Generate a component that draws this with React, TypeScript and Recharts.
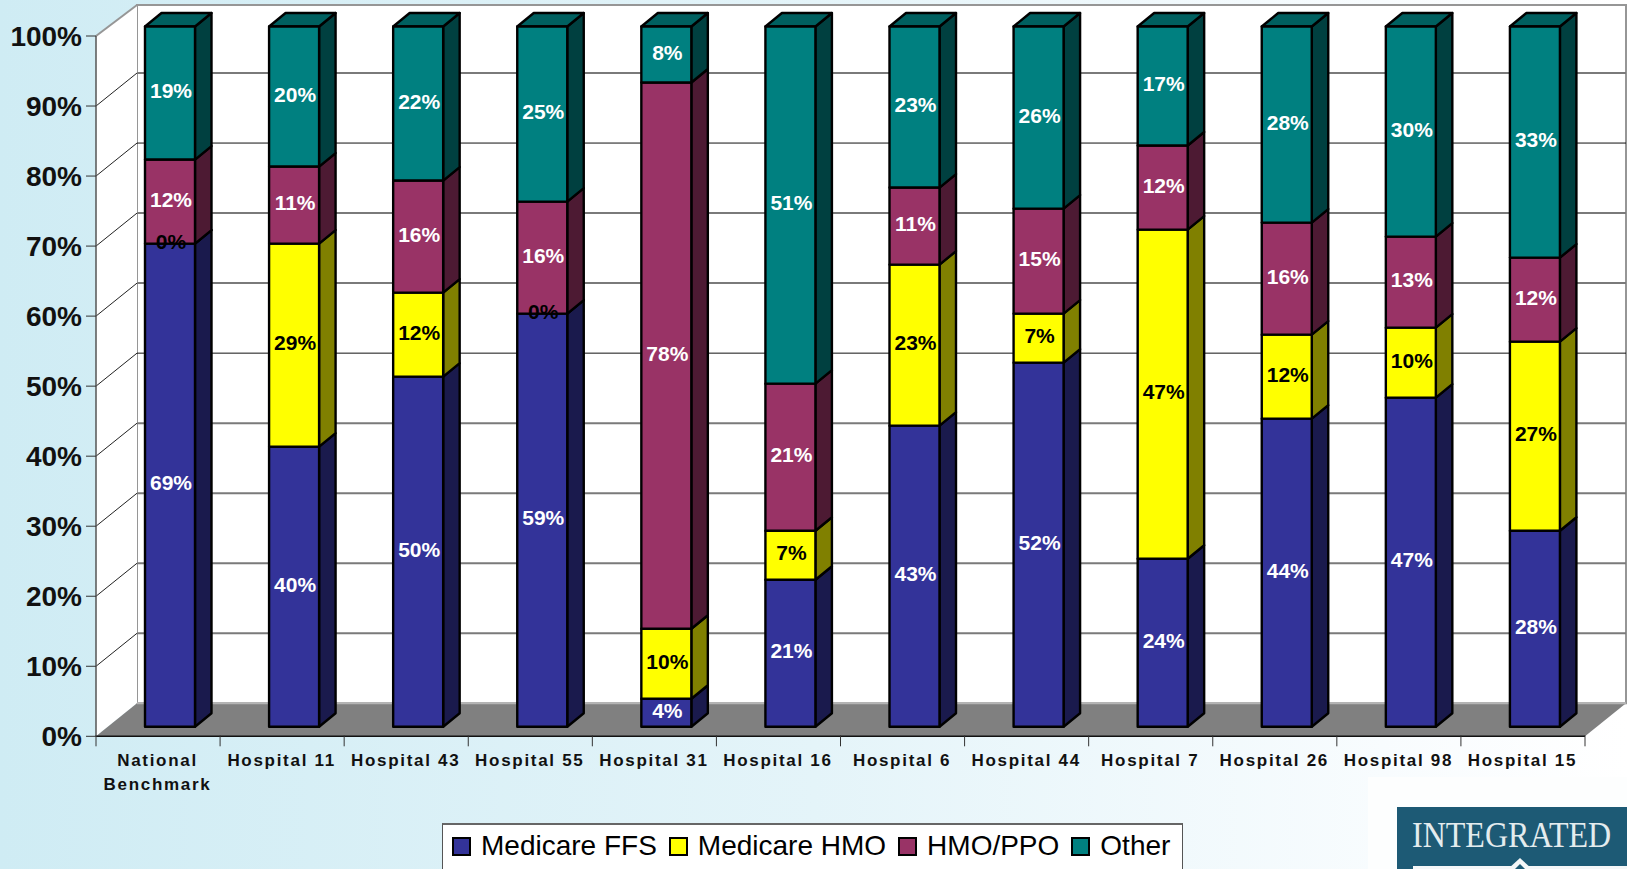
import { BarChart, Bar, XAxis, YAxis, Legend, LabelList, ReferenceArea, ReferenceLine } from "recharts";

const categories = [
  "National\nBenchmark",
  "Hospital 11",
  "Hospital 43",
  "Hospital 55",
  "Hospital 31",
  "Hospital 16",
  "Hospital 6",
  "Hospital 44",
  "Hospital 7",
  "Hospital 26",
  "Hospital 98",
  "Hospital 15",
];

const medicareFfs = [69, 40, 50, 59, 4, 21, 43, 52, 24, 44, 47, 28];
const medicareHmo = [0, 29, 12, 0, 10, 7, 23, 7, 47, 12, 10, 27];
const hmoPpo = [12, 11, 16, 16, 78, 21, 11, 15, 12, 16, 13, 12];
const other = [19, 20, 22, 25, 8, 51, 23, 26, 17, 28, 30, 33];

const yTicks = [0, 10, 20, 30, 40, 50, 60, 70, 80, 90, 100];
const blackGridTicks = [80, 50];

const series = [
  { key: "ffs", name: "Medicare FFS", values: medicareFfs, fill: "#333399", side: "#1a1a4d", label: "#fff" },
  { key: "hmo", name: "Medicare HMO", values: medicareHmo, fill: "#ffff00", side: "#808000", label: "#000" },
  { key: "ppo", name: "HMO/PPO", values: hmoPpo, fill: "#993366", side: "#4d1a33", label: "#fff" },
  { key: "other", name: "Other", values: other, fill: "#008080", side: "#004040", label: "#fff" },
];

const data = categories.map((name, i) => ({
  name,
  ffs: medicareFfs[i],
  hmo: medicareHmo[i],
  ppo: hmoPpo[i],
  other: other[i],
}));

const FONT = '"Liberation Sans", Arial, sans-serif';
const WALL_DX = 41;
const WALL_DY = -33;
const BAR_DX = 12;
const BAR_DY = -9.5;
const SIDE_DX = 16.5;
const SIDE_DY = -13.5;
const BAND = 1489 / 12;

function Box3D(props: any) {
  const { x, y, width, height, fill, side, top } = props;
  const fx = x + BAR_DX;
  const fy = y + BAR_DY;
  const common = { stroke: "#000", strokeWidth: 2.4, strokeLinejoin: "round" as const };
  return (
    <g>
      <polygon
        points={`${fx + width},${fy} ${fx + width + SIDE_DX},${fy + SIDE_DY} ${fx + width + SIDE_DX},${fy + height + SIDE_DY} ${fx + width},${fy + height}`}
        fill={side}
        {...common}
      />
      {top && (
        <polygon
          points={`${fx},${fy} ${fx + SIDE_DX},${fy + SIDE_DY} ${fx + width + SIDE_DX},${fy + SIDE_DY} ${fx + width},${fy}`}
          fill="#006060"
          {...common}
        />
      )}
      <rect x={fx} y={fy} width={width} height={height} fill={fill} {...common} />
    </g>
  );
}

function SegmentLabel(props: any) {
  const { x, y, width, height, value, color } = props;
  return (
    <text
      x={x + width / 2 + BAR_DX + 1}
      y={y + height / 2 + BAR_DY - 2.5}
      textAnchor="middle"
      dominantBaseline="central"
      fontFamily={FONT}
      fontWeight={700}
      fontSize={21}
      fill={color}
    >
      {value}%
    </text>
  );
}

function Walls(props: any) {
  const { x, y, width, height } = props;
  const bottom = y + height;
  const right = x + width;
  return (
    <g>
      <polygon
        points={`${x + WALL_DX},${y - 31} ${right + WALL_DX},${y - 31} ${right + WALL_DX},${bottom + WALL_DY} ${x + WALL_DX},${bottom + WALL_DY}`}
        fill="#fff"
        stroke="#969696"
        strokeWidth={2}
      />
      <polygon
        points={`${x},${y} ${x + WALL_DX},${y - 31} ${x + WALL_DX},${bottom + WALL_DY} ${x},${bottom}`}
        fill="#fff"
      />
      <polygon
        points={`${x},${bottom} ${x + WALL_DX},${bottom + WALL_DY} ${right + WALL_DX},${bottom + WALL_DY} ${right},${bottom}`}
        fill="#808080"
      />
      <line x1={x + WALL_DX} y1={bottom + WALL_DY} x2={right + WALL_DX} y2={bottom + WALL_DY} stroke="#b4b4b4" strokeWidth={2} />
      <line x1={x} y1={y} x2={x + WALL_DX} y2={y - 31} stroke="#969696" strokeWidth={2} />
    </g>
  );
}

function GridLine(props: any) {
  const { x1, x2, y1, tick } = props;
  if (tick === 0 || tick === 100) return null;
  const black = blackGridTicks.includes(tick);
  return (
    <g fill="none">
      <line x1={x1} y1={y1} x2={x1 + WALL_DX} y2={y1 + WALL_DY} stroke="#222" strokeWidth={1} />
      <line
        x1={x1 + WALL_DX}
        y1={y1 + WALL_DY}
        x2={x2 + WALL_DX}
        y2={y1 + WALL_DY}
        stroke={black ? "#111" : "#7a7a7a"}
        strokeWidth={black ? 1 : 2}
      />
    </g>
  );
}

function CategoryTick(props: any) {
  const { x, y, payload, index } = props;
  const lines = String(payload.value).split("\n");
  return (
    <g>
      <line x1={x - BAND / 2} y1={y - 9} x2={x - BAND / 2} y2={y + 2} stroke="#333" strokeWidth={1} />
      {index === categories.length - 1 && (
        <line x1={x + BAND / 2} y1={y - 9} x2={x + BAND / 2} y2={y + 2} stroke="#333" strokeWidth={1} />
      )}
      {lines.map((line: string, i: number) => (
        <text
          key={line}
          x={x - 0.5}
          y={y + 16 + i * 24}
          textAnchor="middle"
          dominantBaseline="central"
          fontFamily={FONT}
          fontWeight={700}
          fontSize={17}
          letterSpacing={1.7}
          fill="#111"
        >
          {line}
        </text>
      ))}
    </g>
  );
}

function LegendBox({ payload }: any) {
  return (
    <div
      style={{
        position: "absolute",
        left: 442,
        top: 823,
        width: 741,
        height: 46,
        boxSizing: "border-box",
        background: "#fff",
        borderTop: "2px solid #666",
        borderLeft: "1px solid #555",
        borderRight: "1px solid #555",
        display: "flex",
        alignItems: "center",
        paddingLeft: 9,
        paddingBottom: 2,
        fontFamily: FONT,
        fontSize: 28,
        color: "#000",
        whiteSpace: "nowrap",
      }}
    >
      {(payload || []).map((item: any) => (
        <span key={item.value} style={{ display: "inline-flex", alignItems: "center", marginRight: 12 }}>
          <span
            style={{
              display: "inline-block",
              width: 19,
              height: 19,
              boxSizing: "border-box",
              background: item.color,
              border: "2px solid #000",
              marginRight: 10,
            }}
          />
          {item.value}
        </span>
      ))}
    </div>
  );
}

function Logo() {
  return (
    <svg
      width={259}
      height={92}
      viewBox="1368 777 259 92"
      style={{ position: "absolute", left: 1368, top: 777 }}
    >
      <rect x={1368} y={777} width={259} height={92} fill="#fdfefe" />
      <rect x={1397} y={807} width={230} height={62} fill="#1d5a75" />
      <text
        transform="translate(1412 847) scale(0.89 1)"
        fontFamily='"Liberation Serif", serif'
        fontSize={36}
        fill="#e4ecee"
      >
        INTEGRATED
      </text>
      <rect x={1413} y={866} width={214} height={3} fill="#f4f7f8" />
      <polygon points="1520,858 1532,869 1508,869" fill="#f4f7f8" />
      <polygon points="1520,864 1525,869 1515,869" fill="#1d5a75" />
    </svg>
  );
}

export default function App() {
  return (
    <div
      style={{
        position: "absolute",
        left: 0,
        top: 0,
        width: 1627,
        height: 869,
        overflow: "hidden",
        background: "linear-gradient(90deg, #cfecf4 0%, #e4f4f9 50%, #f8fcfe 85%, #ffffff 100%)",
      }}
    >
      <BarChart
        width={1627}
        height={869}
        data={data}
        margin={{ top: 36, right: 42, bottom: 0, left: 0 }}
        barSize={50}
      >
        <XAxis
          dataKey="name"
          interval={0}
          height={132.7}
          tickLine={false}
          axisLine={{ stroke: "#111", strokeWidth: 1.5 }}
          tick={<CategoryTick />}
        />
        <YAxis
          width={96}
          domain={[0, 100]}
          ticks={yTicks}
          interval={0}
          tickFormatter={(v: number) => `${v}%`}
          tickSize={10}
          tickMargin={4}
          tickLine={{ stroke: "#333" }}
          axisLine={{ stroke: "#555", strokeWidth: 1.5 }}
          tick={{ fontFamily: FONT, fontSize: 28, fontWeight: 700, fill: "#111" }}
        />
        <ReferenceArea y1={0} y2={100} ifOverflow="visible" zIndex={100} shape={<Walls />} />
        {yTicks.map((t) => (
          <ReferenceLine
            key={t}
            y={t}
            ifOverflow="visible"
            zIndex={150}
            shape={(p: any) => <GridLine {...p} tick={t} />}
          />
        ))}
        {series.map((s, i) => (
          <Bar
            key={s.key}
            dataKey={s.key}
            name={s.name}
            stackId="a"
            fill={s.fill}
            isAnimationActive={false}
            shape={(p: any) => <Box3D {...p} fill={s.fill} side={s.side} top={i === series.length - 1} />}
          >
            <LabelList dataKey={s.key} content={(p: any) => <SegmentLabel {...p} color={s.label} />} />
          </Bar>
        ))}
        <Legend
          content={<LegendBox />}
          itemSorter={null}
          wrapperStyle={{ position: "absolute", left: 0, top: 0, width: 0, height: 0, margin: 0 }}
        />
      </BarChart>
      <Logo />
    </div>
  );
}
